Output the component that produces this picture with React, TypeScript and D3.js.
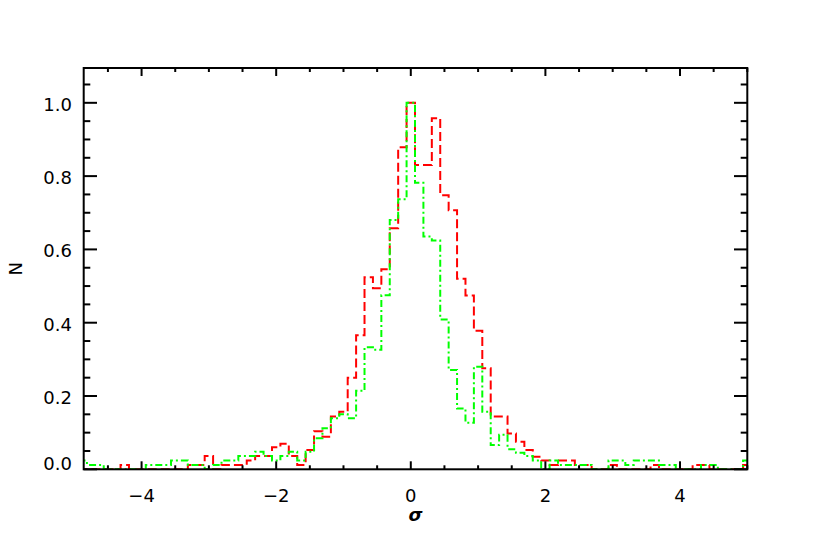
import React from "react";
import * as d3 from "d3";

// Histogram bins: centred on multiples of 0.125, first bin centre -4.875
const binWidth = 0.125;
const firstBinCenter = -4.875;

const redCounts = [
  0, 0, 0, 0, 0, 0.012, 0, 0, 0, 0,
  0, 0, 0, 0.012, 0.012, 0.036, 0, 0.012, 0.012, 0.012,
  0.024, 0.036, 0.036, 0.06, 0.07, 0.036, 0.012, 0.053, 0.104, 0.089,
  0.144, 0.157, 0.25, 0.366, 0.524, 0.494, 0.546, 0.658, 0.879, 1.0,
  0.83, 0.83, 0.958, 0.748, 0.707, 0.52, 0.474, 0.378, 0.276, 0.144,
  0.144, 0.098, 0.075, 0.053, 0.034, 0.024, 0.012, 0.024, 0.024, 0.012,
  0.012, 0, 0, 0.012, 0, 0, 0, 0, 0.012, 0,
  0, 0, 0, 0.012, 0.012, 0, 0, 0, 0, 0.012,
];

const greenCounts = [
  0.024, 0.012, 0.012, 0, 0, 0, 0, 0, 0.012, 0.012,
  0.012, 0.024, 0.024, 0.012, 0.012, 0, 0.012, 0.024, 0.024, 0.036,
  0.036, 0.048, 0.036, 0.024, 0.036, 0.048, 0.024, 0.048, 0.085, 0.112,
  0.139, 0.15, 0.139, 0.214, 0.333, 0.326, 0.475, 0.68, 0.737, 1.0,
  0.782, 0.635, 0.624, 0.409, 0.271, 0.166, 0.127, 0.28, 0.157, 0.066,
  0.094, 0.055, 0.045, 0.036, 0.024, 0, 0.024, 0.012, 0.012, 0.012,
  0.012, 0, 0, 0.024, 0.024, 0.012, 0.024, 0.024, 0.024, 0.012,
  0.012, 0, 0, 0, 0.012, 0.012, 0, 0, 0, 0.024,
];

const xMajorTicks = [-4, -2, 0, 2, 4];
const xTickLabels = ["\u22124", "\u22122", "0", "2", "4"];
const yMajorTicks = [0, 0.2, 0.4, 0.6, 0.8, 1.0];
const yTickLabels = ["0.0", "0.2", "0.4", "0.6", "0.8", "1.0"];
const xTitle = "σ";
const yTitle = "N";

const W = 830;
const H = 553;
const left = 83.7;
const right = 747.3;
const top = 68;
const bottom = 469.3;

export default function App() {
  const x = d3.scaleLinear().domain([-4.86, 5.0]).range([left, right]);
  const y = d3.scaleLinear().domain([0, 1.095]).range([bottom, top]);

  const stepPath = (vals: number[]) => {
    const pts: [number, number][] = vals.map((v, i) => [
      firstBinCenter + i * binWidth - binWidth / 2,
      v,
    ]);
    pts.push([firstBinCenter + vals.length * binWidth - binWidth / 2, vals[vals.length - 1]]);
    return d3
      .line<[number, number]>()
      .x((d) => x(d[0]))
      .y((d) => y(d[1]))
      .curve(d3.curveStepAfter)(pts) as string;
  };

  const xMinor = d3.range(-4.5, 5.01, 0.5).filter((v) => Math.abs(v / 2 - Math.round(v / 2)) > 1e-6);
  const yMinor = d3.range(0.05, 1.09, 0.05).filter((v) => Math.abs(v / 0.2 - Math.round(v / 0.2)) > 1e-6);

  const yMajLen = 13.3, yMinLen = 6.6, xMajLen = 8, xMinLen = 4;
  const font = "DejaVu Sans, sans-serif";

  return (
    <svg width={W} height={H} style={{ position: "absolute", left: 0, top: 0, background: "#fff" }}>
      <defs>
        <clipPath id="plotClip">
          <rect x={left} y={top - 2} width={right - left} height={bottom - top + 2} />
        </clipPath>
      </defs>
      <g clipPath="url(#plotClip)" fill="none" strokeWidth={2}>
        <path d={stepPath(redCounts)} stroke="#ff0000" strokeDasharray="9,4" />
        <path d={stepPath(greenCounts)} stroke="#00ff00" strokeDasharray="7,3,2,3" />
      </g>
      <g stroke="#000" strokeWidth={2} fill="none">
        <rect x={left} y={top} width={right - left} height={bottom - top} />
        {xMajorTicks.map((t) => (
          <g key={"xm" + t}>
            <line x1={x(t)} x2={x(t)} y1={bottom} y2={bottom - xMajLen} />
            <line x1={x(t)} x2={x(t)} y1={top} y2={top + xMajLen} />
          </g>
        ))}
        {xMinor.map((t) => (
          <g key={"xn" + t}>
            <line x1={x(t)} x2={x(t)} y1={bottom} y2={bottom - xMinLen} />
            <line x1={x(t)} x2={x(t)} y1={top} y2={top + xMinLen} />
          </g>
        ))}
        {yMajorTicks.map((t) => (
          <g key={"ym" + t}>
            <line x1={left} x2={left + yMajLen} y1={y(t)} y2={y(t)} />
            <line x1={right} x2={right - yMajLen} y1={y(t)} y2={y(t)} />
          </g>
        ))}
        {yMinor.map((t) => (
          <g key={"yn" + t}>
            <line x1={left} x2={left + yMinLen} y1={y(t)} y2={y(t)} />
            <line x1={right} x2={right - yMinLen} y1={y(t)} y2={y(t)} />
          </g>
        ))}
      </g>
      <g fontFamily={font} fontSize={18} fill="#000">
        {xMajorTicks.map((t, i) => (
          <text key={"xl" + t} x={x(t)} y={502} textAnchor="middle">
            {xTickLabels[i]}
          </text>
        ))}
        {yMajorTicks.map((t, i) => (
          <text
            key={"yl" + t}
            x={72}
            y={(t === 0 ? 463 : y(t) + 1.5) + 6.5}
            textAnchor="end"
          >
            {yTickLabels[i]}
          </text>
        ))}
        <text x={(left + right) / 2} y={521} textAnchor="middle" fontStyle="italic" fontWeight="bold">
          {xTitle}
        </text>
        <text
          transform={`translate(22, ${(top + bottom) / 2}) rotate(-90)`}
          textAnchor="middle"
        >
          {yTitle}
        </text>
      </g>
    </svg>
  );
}
